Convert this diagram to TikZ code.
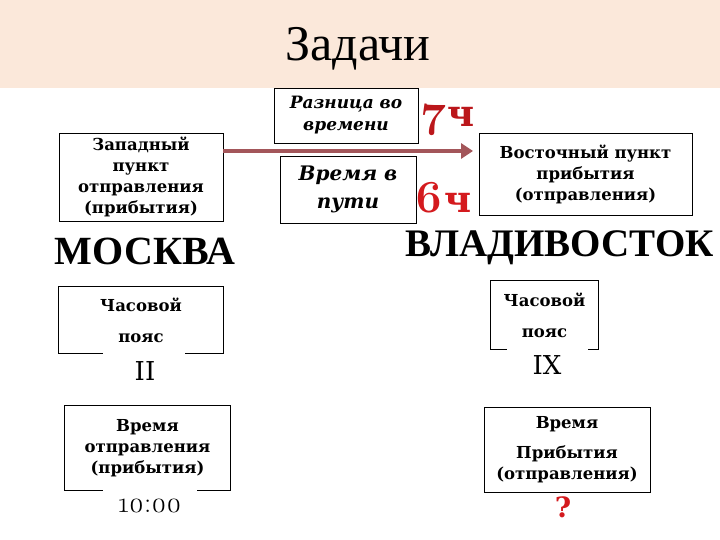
\documentclass[tikz,border=0pt]{standalone}
\usepackage{fontspec}
\setmainfont{DejaVu Serif}
\newfontfamily\titlefont{Liberation Serif}
\newfontfamily\numfont[Numbers=OldStyle]{Latin Modern Roman}
\usepackage{xcolor}
\usepackage{tikz}
\usetikzlibrary{arrows.meta,positioning,calc}
\definecolor{bandpeach}{RGB}{251,232,218}
\definecolor{arrowrose}{RGB}{163,86,90}
\definecolor{hourred}{RGB}{212,26,30}
\tikzset{
  tzbox/.style={
    draw=black, fill=white, line width=0.9pt, align=center,
    inner sep=1pt, font=\fontsize{16.5}{21}\selectfont\bfseries
  },
  tzopen/.style={
    align=center, inner sep=1pt, font=\fontsize{16.5}{21}\selectfont\bfseries
  },
  tzitalic/.style={tzbox,font=\fontsize{17}{22}\selectfont\bfseries\itshape},
  tzframe/.style={line width=0.9pt},
  tzcity/.style={font=\titlefont\fontsize{40}{44}\selectfont\bfseries,inner sep=0pt},
  tzzone/.style={font=\fontsize{26}{28}\selectfont,inner sep=0pt},
  tzhour/.style={font=\fontsize{37}{40}\selectfont\bfseries,text=hourred,inner sep=0pt,anchor=base},
  tzarrow/.style={-{Triangle[length=12pt,width=15pt]},line width=4.5pt,draw=arrowrose},
  tztitle/.style={font=\titlefont\fontsize{50}{52}\selectfont,inner sep=0pt}
}
\newcommand{\hourdigit}[1]{{\numfont\fontsize{46}{46}\selectfont\bfseries #1}}

\begin{document}
\begin{tikzpicture}[x=1pt,y=-1pt]
\useasboundingbox (0,0) rectangle (720,540);
\fill[bandpeach] (0,0) rectangle (720,88);
\node[tztitle] (title) at (358,49) {Задачи};

% west side
\node[tzbox,minimum width=164pt,minimum height=88pt] (zap) at (141,177)
  {Западный\\пункт\\отправления\\(прибытия)};
\node[tzcity] (msk) at (145,251) {МОСКВА};
\node[tzopen,minimum width=164pt,minimum height=66pt] (zonew) at (141,320)
  {Часовой\\[10pt]пояс};
\draw[tzframe] ([xshift=44pt]zonew.south west) -- (zonew.south west) -- (zonew.north west)
  -- (zonew.north east) -- (zonew.south east) -- ([xshift=-38pt]zonew.south east);
\node[tzzone] (zonewval) at (145,371) {II};
\node[tzopen,minimum width=165pt,minimum height=84pt] (timew) at (147.5,448)
  {Время\\отправления\\(прибытия)};
\draw[tzframe] ([xshift=38pt]timew.south west) -- (timew.south west) -- (timew.north west)
  -- (timew.north east) -- (timew.south east) -- ([xshift=-33pt]timew.south east);
\node[font=\numfont\fontsize{29}{30}\selectfont,inner sep=0pt] (timewval) at (150,506) {10:00};

% middle
\node[tzitalic,minimum width=144pt,minimum height=55pt] (diff) at (346,115.5)
  {Разница во\\времени};
\node[tzitalic,font=\fontsize{20}{28}\selectfont\bfseries\itshape,
  minimum width=136pt,minimum height=67pt] (trip) at (348,189.5) {Время в\\пути};
\node[tzhour,text=hourred!88!black] (diffval) at (448,127) {\hourdigit{7}ч};
\node[tzhour] (tripval) at (443,212) {\hourdigit{6}ч};

% east side
\node[tzbox,minimum width=213pt,minimum height=82pt] (vost) at (585.5,174)
  {Восточный пункт\\прибытия\\(отправления)};
\node[tzcity,font=\titlefont\fontsize{39}{42}\selectfont\bfseries] (vlad) at (560,248) {ВЛАДИВОСТОК};
\node[tzopen,minimum width=107pt,minimum height=68pt] (zonee) at (544.5,315)
  {Часовой\\[10pt]пояс};
\draw[tzframe] ([xshift=16pt]zonee.south west) -- (zonee.south west) -- (zonee.north west)
  -- (zonee.north east) -- (zonee.south east) -- ([xshift=-10pt]zonee.south east);
\node[tzzone] (zoneeval) at (547,365) {IX};
\node[tzbox,minimum width=166pt,minimum height=85pt] (timee) at (567,449.5)
  {Время\\[9pt]Прибытия\\(отправления)};
\node[tzhour,font=\fontsize{28}{30}\selectfont\bfseries,anchor=center] (timeeval) at (563,507) {?};

\coordinate (arrend) at (473,151);
\draw[tzarrow] (zap.east |- arrend) -- (arrend);
\end{tikzpicture}
\end{document}
